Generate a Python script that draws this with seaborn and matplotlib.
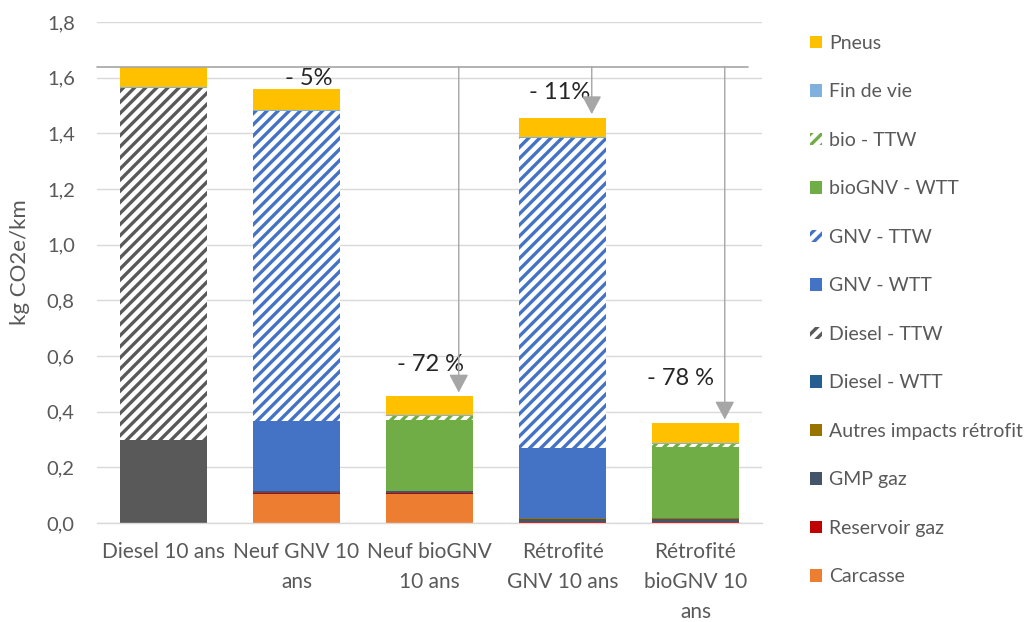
import numpy as np
import pandas as pd
import seaborn as sns
import matplotlib.pyplot as plt
from matplotlib.patches import Patch

# Data (kg CO2e/km)
scenarios = ['Diesel 10 ans', 'Neuf GNV 10 ans', 'Neuf bioGNV 10 ans',
             'Rétrofité GNV 10 ans', 'Rétrofité bioGNV 10 ans']
tick_labels = ['Diesel 10 ans', 'Neuf GNV 10\nans', 'Neuf bioGNV\n10 ans',
               'Rétrofité\nGNV 10 ans', 'Rétrofité\nbioGNV 10\nans']

carcasse = [0.0, 0.105, 0.105, 0.0, 0.0]
reservoir_gaz = [0.0, 0.004, 0.004, 0.004, 0.004]
gmp_gaz = [0.0, 0.006, 0.006, 0.012, 0.012]
autres_retrofit = [0.0, 0.0, 0.0, 0.002, 0.002]
diesel_wtt = [0.300, 0.0, 0.0, 0.0, 0.0]
diesel_ttw = [1.264, 0.0, 0.0, 0.0, 0.0]
gnv_wtt = [0.0, 0.253, 0.0, 0.250, 0.0]
gnv_ttw = [0.0, 1.113, 0.0, 1.115, 0.0]
biognv_wtt = [0.0, 0.0, 0.255, 0.0, 0.254]
bio_ttw = [0.0, 0.0, 0.015, 0.0, 0.012]
fin_de_vie = [0.003, 0.003, 0.003, 0.003, 0.003]
pneus = [0.073, 0.074, 0.068, 0.070, 0.072]

reductions = ['- 5%', '- 72 %', '- 11%', '- 78 %']

# series in stacking order (bottom -> top): label, values, colour, hatched
series = [
    ('Carcasse', carcasse, '#ED7D31', False),
    ('Reservoir gaz', reservoir_gaz, '#C00000', False),
    ('GMP gaz', gmp_gaz, '#44546A', False),
    ('Autres impacts rétrofit', autres_retrofit, '#997300', False),
    ('Diesel - WTT', diesel_wtt, '#255E91', False),
    ('Diesel - TTW', diesel_ttw, '#595959', True),
    ('GNV - WTT', gnv_wtt, '#4472C4', False),
    ('GNV - TTW', gnv_ttw, '#4472C4', True),
    ('bioGNV - WTT', biognv_wtt, '#70AD47', False),
    ('bio - TTW', bio_ttw, '#70AD47', True),
    ('Fin de vie', fin_de_vie, '#7FB0DE', False),
    ('Pneus', pneus, '#FFC000', False),
]

sns.set_theme(style='white')
plt.rcParams['font.family'] = ['Lato', 'DejaVu Sans']
plt.rcParams['hatch.linewidth'] = 2.4

fig = plt.figure(figsize=(10.29, 6.22), dpi=100)
ax = fig.add_axes([97 / 1029, 1 - 523 / 622, 665 / 1029, 501 / 622])

# stacked bars: draw cumulative heights from the top series down,
# each layer painted over the previous one
cum = np.cumsum([np.array(s[1]) for s in series], axis=0)
for k in range(len(series) - 1, -1, -1):
    name, vals, col, hatched = series[k]
    df = pd.DataFrame({'scenario': scenarios, 'value': cum[k]})
    # the diesel bar's WTT part is drawn in grey in the original chart
    draw_col = '#595959' if name == 'Diesel - WTT' else col
    if hatched:
        sns.barplot(data=df, x='scenario', y='value', ax=ax, width=0.65,
                    saturation=1, color='white', edgecolor=draw_col,
                    hatch='///', linewidth=0)
    else:
        sns.barplot(data=df, x='scenario', y='value', ax=ax, width=0.65,
                    saturation=1, color=draw_col, linewidth=0)

totals = cum[-1]
ref = totals[0]

ax.set_ylim(0, 1.8)
ax.set_xlim(-0.5, 4.5)
ax.set_yticks(np.arange(0, 1.81, 0.2))
ax.set_yticklabels([f'{v:.1f}'.replace('.', ',') for v in np.arange(0, 1.81, 0.2)])
ax.set_xticks(range(len(scenarios)))
ax.set_xticklabels(tick_labels, linespacing=1.62)
ax.tick_params(axis='y', length=0, pad=16, labelsize=14.5, labelcolor='#595959')
ax.tick_params(axis='x', length=0, pad=13.5, labelsize=15, labelcolor='#595959')
ax.yaxis.grid(True, color='#D9D9D9', linewidth=1.0)
ax.set_axisbelow(True)
for s in ['top', 'right', 'left']:
    ax.spines[s].set_visible(False)
ax.spines['bottom'].set_color('#D9D9D9')
ax.spines['bottom'].set_linewidth(1.0)
ax.set_xlabel('')
ax.set_ylabel('kg CO2e/km', fontsize=16, color='#595959')
ax.yaxis.set_label_coords(-0.10, 0.52)

# reference line at diesel level + arrows to the other bars
ax.plot([-0.5, 4.395], [ref, ref], color='#A6A6A6', linewidth=1.2,
        clip_on=False, zorder=5)
for i in [2, 3, 4]:
    xa = i + 0.22
    ax.annotate('', xy=(xa, totals[i] + 0.013), xytext=(xa, ref),
                arrowprops=dict(arrowstyle='-|>,head_length=0.75,head_width=0.4',
                                mutation_scale=15, color='#A6A6A6',
                                linewidth=1.0, shrinkA=0, shrinkB=0),
                zorder=5)

text_kw = dict(ha='center', va='center', fontsize=17, color='#262626')
ax.text(1 + 0.09, totals[1] + 0.04, reductions[0], **text_kw)
ax.text(2 + 0.01, totals[2] + 0.115, reductions[1], **text_kw)
ax.text(3 - 0.02, totals[3] + 0.09, reductions[2], **text_kw)
ax.text(4 - 0.11, totals[4] + 0.16, reductions[3], **text_kw)

# legend, top entry = top of stack
handles = []
for name, vals, col, hatched in series[::-1]:
    if hatched:
        handles.append(Patch(facecolor='white', edgecolor=col, hatch='///',
                             linewidth=0, label=name))
    else:
        handles.append(Patch(facecolor=col, linewidth=0, label=name))
fig.legend(handles=handles, loc='center left',
           bbox_to_anchor=(810 / 1029, 1 - 310 / 622), frameon=False,
           fontsize=14, handlelength=0.62, handleheight=0.62,
           handletextpad=0.35, labelspacing=1.62, borderaxespad=0,
           borderpad=0, labelcolor='#595959')

plt.savefig('out.png', dpi=100)
